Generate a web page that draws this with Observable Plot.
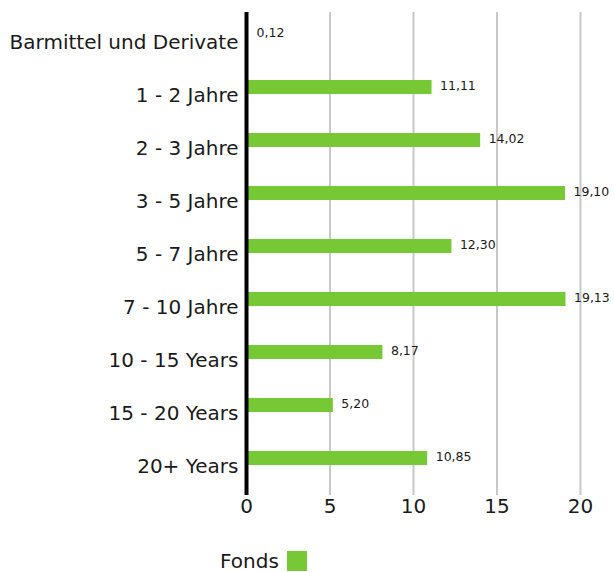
<!DOCTYPE html>
<html>
<head>
<meta charset="utf-8">
<script src="https://cdn.jsdelivr.net/npm/d3@7"></script>
<script src="https://cdn.jsdelivr.net/npm/@observablehq/plot@0.6"></script>
<style>
  body { margin: 0; background: #fff; font-family: "DejaVu Sans", sans-serif; }
  #chart { width: 614px; }
  #chart svg { display: block; }
  .legend { margin: 20px 0 0 220px; height: 22px; display: flex; align-items: center; font-size: 20px; color: #1a1a1a; }
  .legend .sw { display: inline-block; width: 20px; height: 20px; background: #76c935; margin-left: 8px; }
</style>
</head>
<body>
<div id="chart"></div>
<script>
const categories = ["Barmittel und Derivate", "1 - 2 Jahre", "2 - 3 Jahre", "3 - 5 Jahre", "5 - 7 Jahre", "7 - 10 Jahre", "10 - 15 Years", "15 - 20 Years", "20+ Years"];
const values = [0.12, 11.11, 14.02, 19.10, 12.30, 19.13, 8.17, 5.20, 10.85];
const valueLabels = ["0,12", "11,11", "14,02", "19,10", "12,30", "19,13", "8,17", "5,20", "10,85"];
const xTicks = [0, 5, 10, 15, 20];
const seriesName = "Fonds";

const data = categories.map((c, i) => ({cat: c, value: values[i], label: valueLabels[i]}));

const plot = Plot.plot({
  width: 614,
  height: 530,
  marginLeft: 246,
  marginRight: 34,
  marginTop: 12,
  marginBottom: 35,
  style: {fontFamily: "'DejaVu Sans', sans-serif", color: "#1a1a1a", background: "#fff"},
  x: {domain: [0, 20], ticks: xTicks},
  y: {domain: categories, paddingInner: 0.737, paddingOuter: 0.4, align: 0.333},
  marks: [
    Plot.ruleX(xTicks.filter(d => d > 0), {stroke: "#c8c8c8", strokeWidth: 2}),
    Plot.barX(data, {x: "value", y: "cat", fill: "#76c935"}),
    Plot.ruleX([0], {stroke: "#000", strokeWidth: 4}),
    Plot.text(data, {x: "value", y: "cat", text: "label", textAnchor: "start", dx: 8, dy: -2, fontSize: 12.5, fill: "#1a1a1a"}),
    Plot.axisX({ticks: xTicks, tickSize: 0, tickPadding: 3, fontSize: 20, label: null, tickFormat: d => String(d)}),
    Plot.axisY({tickSize: 0, tickPadding: 8, fontSize: 20, label: null, dy: 8})
  ]
});
const root = document.getElementById("chart");
root.appendChild(plot);
const lg = document.createElement("div");
lg.className = "legend";
lg.innerHTML = `<span>${seriesName}</span><span class="sw"></span>`;
root.appendChild(lg);
</script>
</body>
</html>
